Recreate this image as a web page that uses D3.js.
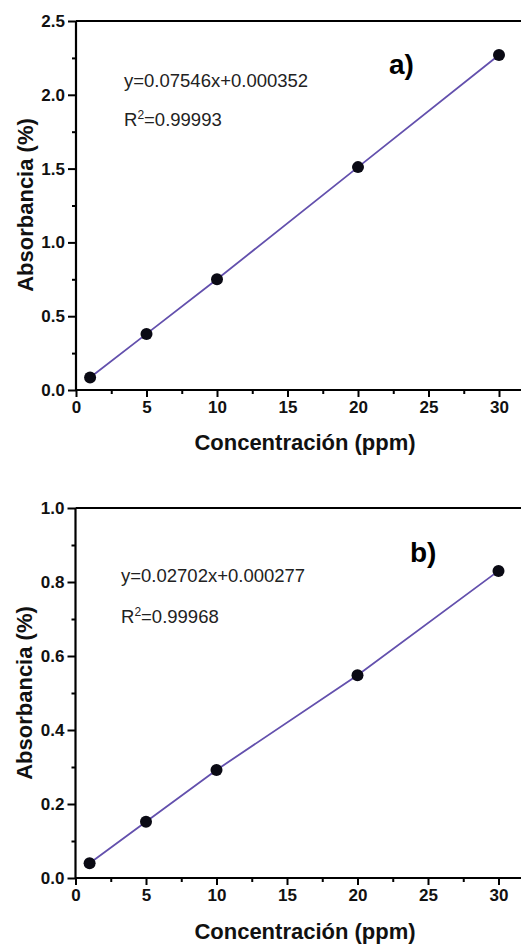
<!DOCTYPE html>
<html>
<head>
<meta charset="utf-8">
<script src="https://cdn.jsdelivr.net/npm/d3@7"></script>
<style>
  html, body { margin: 0; padding: 0; background: #fff; }
  svg { display: block; }
  text { font-family: "Liberation Sans", Arial, sans-serif; }
</style>
</head>
<body>
<svg id="chart" width="521" height="945"></svg>
<script>
// ---- data ----
const concentration = [1, 5, 10, 20, 30];
const absorbanceA = [0.085, 0.38, 0.75, 1.51, 2.27];
const absorbanceB = [0.04, 0.152, 0.292, 0.548, 0.83];
const xTickValues = [0, 5, 10, 15, 20, 25, 30];
const xMinorValues = [2.5, 7.5, 12.5, 17.5, 22.5, 27.5];
const yTicksA = [0, 0.5, 1.0, 1.5, 2.0, 2.5];
const yMinorA = [0.25, 0.75, 1.25, 1.75, 2.25];
const yTicksB = [0, 0.2, 0.4, 0.6, 0.8, 1.0];
const yMinorB = [0.1, 0.3, 0.5, 0.7, 0.9];
const equationA = "y=0.07546x+0.000352";
const r2A = "=0.99993";
const equationB = "y=0.02702x+0.000277";
const r2B = "=0.99968";
const panelLabels = ["a)", "b)"];
const xTitle = "Concentración (ppm)";
const yTitle = "Absorbancia (%)";

const svg = d3.select("#chart");
const lineColor = "#6350ad";

function panel(cfg) {
  const g = svg.append("g");
  const x = d3.scaleLinear().domain([0, 32]).range([cfg.left, cfg.left + 32 * 14.1]);
  const y = d3.scaleLinear().domain(cfg.yDomain).range([cfg.bottom, cfg.top]);

  // top frame line
  g.append("line")
    .attr("x1", cfg.left).attr("x2", 530)
    .attr("y1", cfg.top).attr("y2", cfg.top)
    .attr("stroke", "#000").attr("stroke-width", 2.2);

  // x axis major
  const xAx = g.append("g").attr("transform", `translate(0,${cfg.bottom})`)
    .call(d3.axisBottom(x).tickValues(xTickValues).tickFormat(d3.format("d")).tickSize(7).tickPadding(4));
  xAx.select(".domain").attr("stroke-width", 2.2).attr("d", `M${cfg.left},0H530`);
  xAx.selectAll(".tick line").attr("stroke-width", 2);
  xAx.selectAll("text").attr("font-size", 17).attr("font-weight", "bold").attr("fill", "#111");
  // x axis minor
  const xMin = g.append("g").attr("transform", `translate(0,${cfg.bottom})`)
    .call(d3.axisBottom(x).tickValues(xMinorValues).tickFormat("").tickSize(4));
  xMin.select(".domain").remove();
  xMin.selectAll(".tick line").attr("stroke-width", 2);

  // y axis major
  const yAx = g.append("g").attr("transform", `translate(${cfg.left},0)`)
    .call(d3.axisLeft(y).tickValues(cfg.yTicks).tickFormat(d3.format(".1f")).tickSize(8).tickPadding(3));
  yAx.select(".domain").attr("stroke-width", 2.2).attr("d", `M0,${cfg.top}V${cfg.bottom}`);
  yAx.selectAll(".tick line").attr("stroke-width", 2);
  yAx.selectAll("text").attr("font-size", 17).attr("font-weight", "bold").attr("fill", "#111");
  const yMin = g.append("g").attr("transform", `translate(${cfg.left},0)`)
    .call(d3.axisLeft(y).tickValues(cfg.yMinor).tickFormat("").tickSize(4));
  yMin.select(".domain").remove();
  yMin.selectAll(".tick line").attr("stroke-width", 2);

  // line through data
  const data = concentration.map((c, i) => ({ c, a: cfg.values[i] }));
  g.append("path").datum(data)
    .attr("fill", "none").attr("stroke", lineColor).attr("stroke-width", 1.8)
    .attr("d", d3.line().x(d => x(d.c)).y(d => y(d.a)));
  g.selectAll("circle.pt").data(data).enter().append("circle")
    .attr("cx", d => x(d.c)).attr("cy", d => y(d.a)).attr("r", 6)
    .attr("fill", "#0a0a14");

  // annotations
  g.append("text").attr("x", cfg.eqX).attr("y", cfg.eqY)
    .attr("font-size", 18.5).attr("fill", "#222").text(cfg.equation);
  const r = g.append("text").attr("x", cfg.eqX).attr("y", cfg.r2Y)
    .attr("font-size", 18.5).attr("fill", "#222");
  r.append("tspan").text("R");
  r.append("tspan").attr("font-size", 12).attr("dy", -7).text("2");
  r.append("tspan").attr("dy", 7).text(cfg.r2);

  g.append("text").attr("x", cfg.labX).attr("y", cfg.labY)
    .attr("font-size", 28).attr("font-weight", "bold").attr("fill", "#000").text(cfg.label);

  // axis titles
  g.append("text").attr("x", 305).attr("y", cfg.xTitleY).attr("text-anchor", "middle")
    .attr("font-size", 22).attr("font-weight", "bold").attr("fill", "#111").text(xTitle);
  g.append("text").attr("transform", `translate(${cfg.yTitleX},${cfg.yTitleY}) rotate(-90)`)
    .attr("text-anchor", "middle")
    .attr("font-size", 22).attr("font-weight", "bold").attr("fill", "#111").text(yTitle);
}

panel({
  left: 76, top: 21, bottom: 390, yDomain: [0, 2.5],
  yTicks: yTicksA, yMinor: yMinorA, values: absorbanceA,
  equation: equationA, r2: r2A, eqX: 124, eqY: 87, r2Y: 126,
  label: panelLabels[0], labX: 389, labY: 74,
  xTitleY: 450, yTitleX: 33, yTitleY: 205
});
panel({
  left: 75.5, top: 508, bottom: 878, yDomain: [0, 1.0],
  yTicks: yTicksB, yMinor: yMinorB, values: absorbanceB,
  equation: equationB, r2: r2B, eqX: 121, eqY: 582, r2Y: 623,
  label: panelLabels[1], labX: 410, labY: 562,
  xTitleY: 939, yTitleX: 32, yTitleY: 693
});
</script>
</body>
</html>
